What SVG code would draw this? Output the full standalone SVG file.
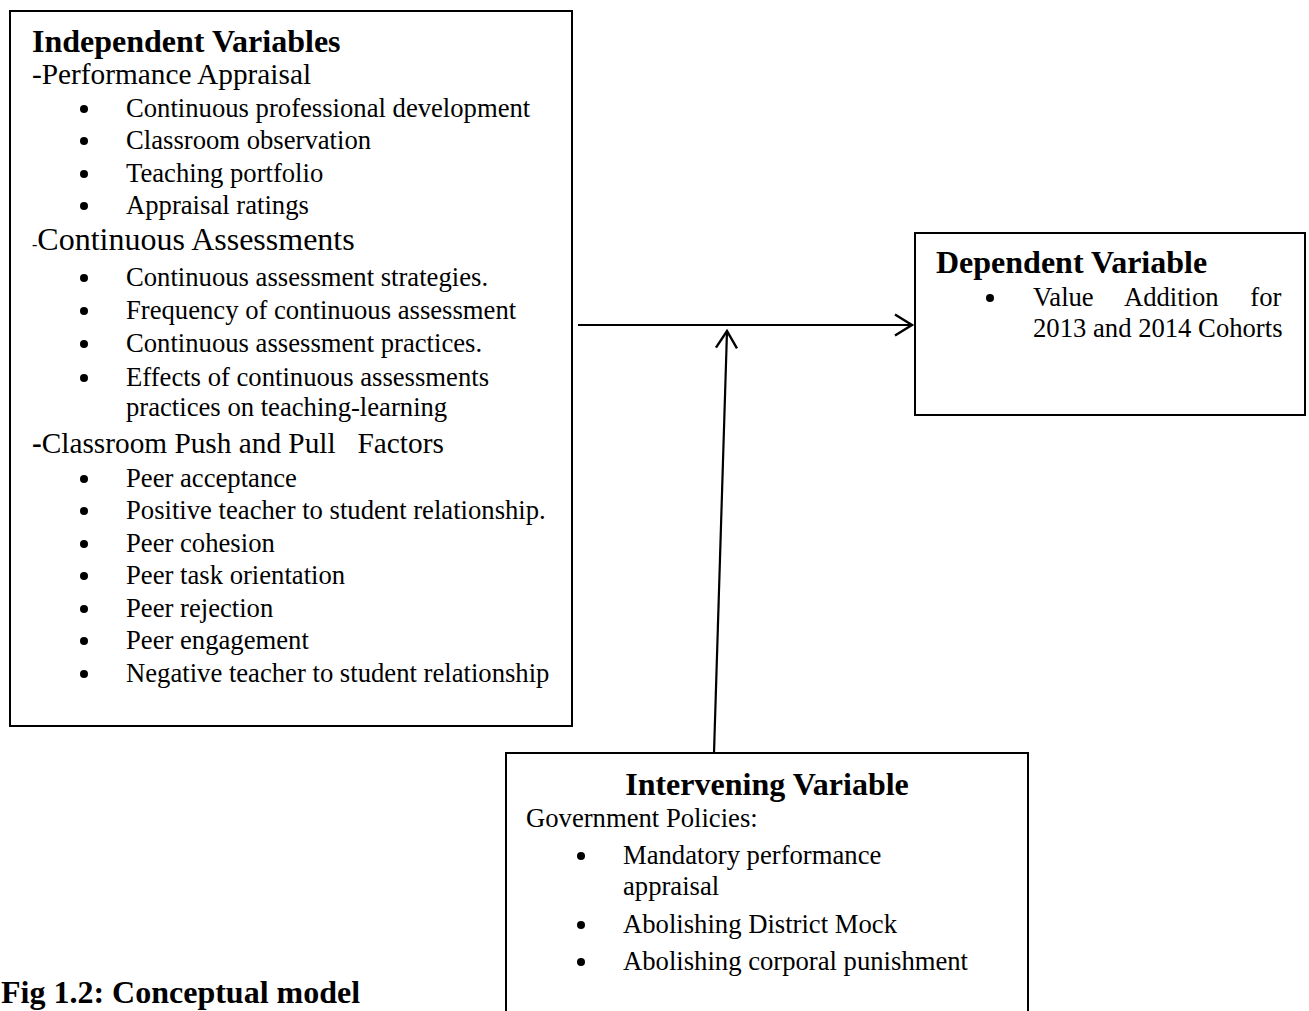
<svg xmlns="http://www.w3.org/2000/svg" width="1309" height="1011" viewBox="0 0 1309 1011">
<style>
  text { font-family: "Liberation Serif", "Times New Roman", serif; fill: #000; }
  .h { font-size: 32px; font-weight: bold; }
  .b { font-size: 26.67px; }
  .s { font-size: 29.3px; }
  .box { fill: #fff; stroke: #000; stroke-width: 2; }
  .dot { fill: #000; }
  .conn { fill: none; stroke: #000; stroke-width: 2.2; }
</style>
<defs>
  <marker id="chev" viewBox="-20 -13 24 26" refX="0" refY="0" markerWidth="24" markerHeight="26" markerUnits="userSpaceOnUse" orient="auto" overflow="visible">
    <path d="M-17,-10.5 L0,0 L-17,10.5" fill="none" stroke="#000" stroke-width="2.4"/>
  </marker>
</defs>
<rect width="1309" height="1011" fill="#fff"/>

<g id="independent">
  <rect class="box" x="10" y="11" width="562" height="715"/>
  <text class="h" x="32" y="52">Independent Variables</text>
  <text class="s" x="32" y="84">-Performance Appraisal</text>
  <circle class="dot" cx="84" cy="109" r="4"/>
  <text class="b" x="126" y="117">Continuous professional development</text>
  <circle class="dot" cx="84" cy="141" r="4"/>
  <text class="b" x="126" y="149">Classroom observation</text>
  <circle class="dot" cx="84" cy="174" r="4"/>
  <text class="b" x="126" y="182">Teaching portfolio</text>
  <circle class="dot" cx="84" cy="206" r="4"/>
  <text class="b" x="126" y="214">Appraisal ratings</text>
  <text x="32" y="250"><tspan style="font-size:16px">-</tspan><tspan class="h" style="font-weight:normal">Continuous Assessments</tspan></text>
  <circle class="dot" cx="84" cy="278" r="4"/>
  <text class="b" x="126" y="286">Continuous assessment strategies.</text>
  <circle class="dot" cx="84" cy="311" r="4"/>
  <text class="b" x="126" y="319">Frequency of continuous assessment</text>
  <circle class="dot" cx="84" cy="344" r="4"/>
  <text class="b" x="126" y="352">Continuous assessment practices.</text>
  <circle class="dot" cx="84" cy="378" r="4"/>
  <text class="b" x="126" y="386">Effects of continuous assessments</text>
  <text class="b" x="126" y="416">practices on teaching-learning</text>
  <text class="s" x="32" y="453" xml:space="preserve"><tspan style="font-weight:bold">-</tspan>Classroom Push and Pull   Factors</text>
  <circle class="dot" cx="84" cy="479" r="4"/>
  <text class="b" x="126" y="487">Peer acceptance</text>
  <circle class="dot" cx="84" cy="511" r="4"/>
  <text class="b" x="126" y="519">Positive teacher to student relationship.</text>
  <circle class="dot" cx="84" cy="544" r="4"/>
  <text class="b" x="126" y="552">Peer cohesion</text>
  <circle class="dot" cx="84" cy="576" r="4"/>
  <text class="b" x="126" y="584">Peer task orientation</text>
  <circle class="dot" cx="84" cy="609" r="4"/>
  <text class="b" x="126" y="617">Peer rejection</text>
  <circle class="dot" cx="84" cy="641" r="4"/>
  <text class="b" x="126" y="649">Peer engagement</text>
  <circle class="dot" cx="84" cy="674" r="4"/>
  <text class="b" x="126" y="682">Negative teacher to student relationship</text>
</g>

<g id="dependent">
  <rect class="box" x="915" y="233" width="390" height="182"/>
  <text class="h" x="936" y="273">Dependent Variable</text>
  <circle class="dot" cx="990" cy="298" r="4"/>
  <text class="b" x="1033" y="306" style="word-spacing:25px">Value Addition for</text>
  <text class="b" x="1033" y="337">2013 and 2014 Cohorts</text>
</g>

<g id="intervening">
  <rect class="box" x="506" y="753" width="522" height="270"/>
  <text class="h" x="767" y="795" text-anchor="middle">Intervening Variable</text>
  <text class="b" x="526" y="827">Government Policies:</text>
  <circle class="dot" cx="581" cy="856" r="4"/>
  <text class="b" x="623" y="864">Mandatory performance</text>
  <text class="b" x="623" y="895">appraisal</text>
  <circle class="dot" cx="581" cy="925" r="4"/>
  <text class="b" x="623" y="933">Abolishing District Mock</text>
  <circle class="dot" cx="581" cy="962" r="4"/>
  <text class="b" x="623" y="970">Abolishing corporal punishment</text>
</g>

<g id="connectors">
  <line class="conn" x1="578" y1="325" x2="912" y2="325" marker-end="url(#chev)"/>
  <line class="conn" x1="714" y1="753" x2="727" y2="331" marker-end="url(#chev)"/>
</g>

<g id="caption">
  <text class="h" x="1" y="1003">Fig 1.2: Conceptual model</text>
</g>
</svg>
